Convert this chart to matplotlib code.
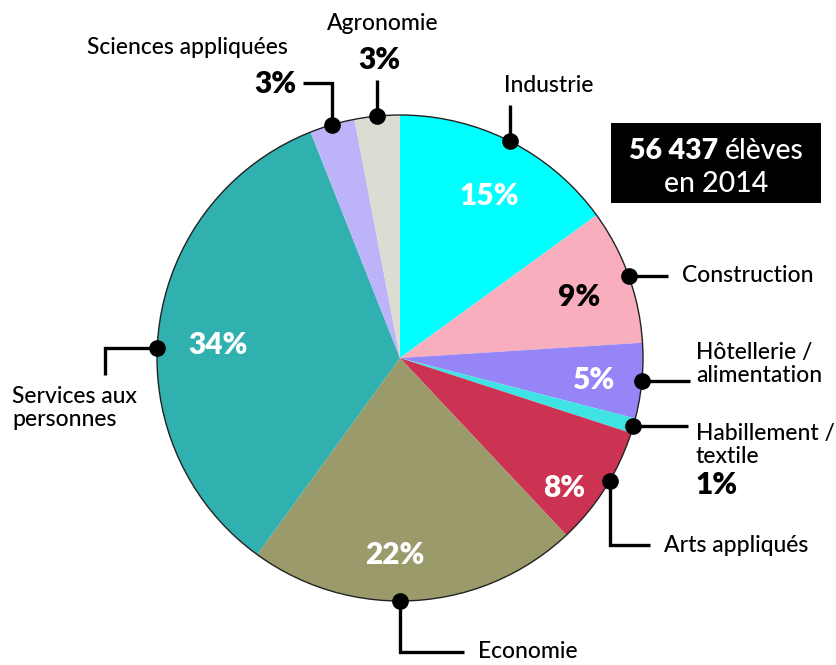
import matplotlib
matplotlib.use('Agg')
import matplotlib.pyplot as plt
import numpy as np
from matplotlib.patches import Circle, Rectangle

# ---- data ----
categories = ['Industrie', 'Construction', 'Hôtellerie /\nalimentation', 'Habillement /\ntextile',
              'Arts appliqués', 'Economie', 'Services aux\npersonnes', 'Sciences appliquées', 'Agronomie']
shares = [15, 9, 5, 1, 8, 22, 34, 3, 3]
pct_labels = ['15%', '9%', '5%', '1%', '8%', '22%', '34%', '3%', '3%']
colors = ['#00FFFF', '#F9AEBD', '#9585F7', '#3FE3E3', '#CC3352', '#9B9A6B', '#31B0B0', '#BCB3F9', '#DCDCD3']
total_students = '56 437'
total_word = 'élèves'
year_line = 'en 2014'

plt.rcParams['font.family'] = ['Lato', 'DejaVu Sans']

W, H = 837, 665
fig = plt.figure(figsize=(W / 100, H / 100), dpi=100)
ax = fig.add_axes([0, 0, 1, 1])

def Y(py):
    return H - py

cx, cy, R = 400, Y(358), 243
wedges, _ = ax.pie(shares, colors=colors, startangle=90, counterclock=False,
                   center=(cx, cy), radius=R, wedgeprops=dict(linewidth=0), frame=True)
ax.add_patch(Circle((cx, cy), R, fill=False, edgecolor='#222222', linewidth=1.0, zorder=3))
ax.set_xlim(0, W)
ax.set_ylim(0, H)
ax.set_aspect('equal')
ax.axis('off')

def mid(w):
    return np.deg2rad((w.theta1 + w.theta2) / 2)

PW = 'heavy'
PFS = 21.5
# inner percentage labels: (index, radius fraction, angle tweak deg, color)
inner = [(0, 0.76, -2, 'white'), (1, 0.78, -1, 'black'), (2, 0.80, -1, 'white'),
         (4, 0.86, -6, 'white'), (5, 0.81, -5, 'white'), (6, 0.75, 3, 'white')]
for i, fr, tw, col in inner:
    a = mid(wedges[i]) + np.deg2rad(tw)
    ax.text(cx + fr * R * np.cos(a), cy + fr * R * np.sin(a), pct_labels[i],
            color=col, fontsize=PFS, fontweight=PW, ha='center', va='center', zorder=5)

# leaders
lw = 2.4
def dot_pos(i, tw=0.0):
    a = mid(wedges[i]) + np.deg2rad(tw)
    return cx + R * np.cos(a), cy + R * np.sin(a)

def leader(i, pts, tw=0.0):
    x0, y0 = dot_pos(i, tw)
    xs = [x0] + [p[0] if p[0] is not None else x0 for p in pts]
    ys = [y0] + [Y(p[1]) if p[1] is not None else y0 for p in pts]
    ax.plot(xs, ys, color='black', lw=lw, solid_capstyle='butt', solid_joinstyle='miter', zorder=6)
    ax.plot([x0], [y0], 'o', color='black', ms=11, zorder=7)
    return x0, y0

fs = 16.5
LW_ = 'medium'
# Industrie
x0, y0 = leader(0, [(None, 105)])
ax.text(549, Y(86), categories[0], fontsize=fs, fontweight=LW_, ha='center', va='center')
# Construction
x0, y0 = leader(1, [(668, None)])
ax.text(682, y0, categories[1], fontsize=fs, fontweight=LW_, ha='left', va='center')
# Hotellerie
x0, y0 = leader(2, [(690, None)])
ax.text(696, Y(364), categories[2], fontsize=fs, fontweight=LW_, ha='left', va='center', linespacing=1.08)
# Habillement
x0, y0 = leader(3, [(688, None)])
ax.text(696, Y(445), categories[3], fontsize=fs, fontweight=LW_, ha='left', va='center', linespacing=1.08)
ax.text(696, Y(485), pct_labels[3], fontsize=PFS, fontweight=PW, ha='left', va='center')
# Arts
x0, y0 = leader(4, [(None, 545), (650, 545)], tw=2)
ax.text(664, Y(546), categories[4], fontsize=fs, fontweight=LW_, ha='left', va='center')
# Economie
x0, y0 = leader(5, [(None, 652), (464, 652)], tw=-3.6)
ax.text(478, Y(652), categories[5], fontsize=fs, fontweight=LW_, ha='left', va='center')
# Services
x0, y0 = leader(6, [(105, None), (105, 375)], tw=4.8)
ax.text(12, Y(408), categories[6], fontsize=fs, fontweight=LW_, ha='left', va='center', linespacing=1.08)
# Sciences
x0, y0 = leader(7, [(None, 83), (303, 83)])
ax.text(296, Y(84), pct_labels[7], fontsize=PFS, fontweight=PW, ha='right', va='center')
ax.text(187, Y(48), categories[7], fontsize=fs, fontweight=LW_, ha='center', va='center')
# Agronomie
x0, y0 = leader(8, [(None, 80)])
ax.text(379, Y(60), pct_labels[8], fontsize=PFS, fontweight=PW, ha='center', va='center')
ax.text(383, Y(24), categories[8], fontsize=fs, fontweight=LW_, ha='center', va='center')

# total box
ax.add_patch(Rectangle((611, Y(203)), 210, 80, facecolor='black', edgecolor='none', zorder=2))
ax.text(718, Y(151), total_students, color='white', fontsize=20.5, fontweight=PW, ha='right', va='center')
ax.text(725, Y(151), total_word, color='white', fontsize=20.5, fontweight=LW_, ha='left', va='center')
ax.text(716, Y(184), year_line, color='white', fontsize=20.5, fontweight=LW_, ha='center', va='center')

fig.savefig('out.png', dpi=100)
